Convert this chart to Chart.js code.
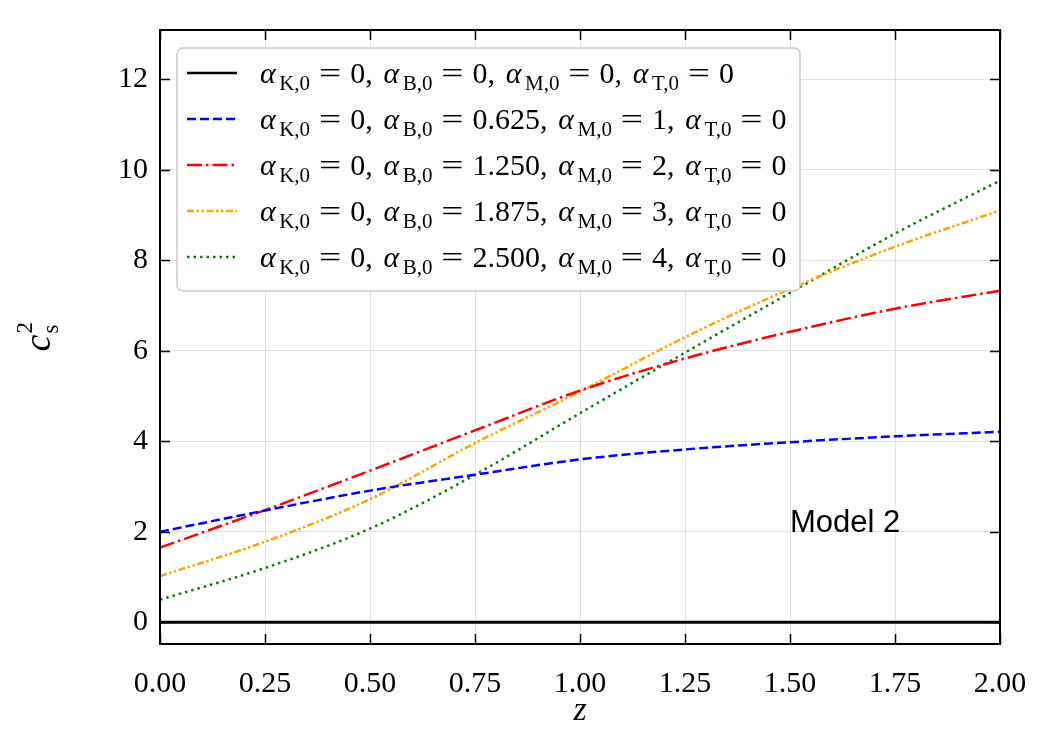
<!DOCTYPE html>
<html>
<head>
<meta charset="utf-8">
<script src="https://cdn.jsdelivr.net/npm/chart.js@4.4.1/dist/chart.umd.min.js"></script>
<style>
  html, body { margin: 0; padding: 0; background: #fff; }
  #wrap { width: 1050px; height: 750px; }
</style>
</head>
<body>
<div id="wrap"><canvas id="c" width="1050" height="750"></canvas></div>
<script>
// ── data ──
const zValues   = [0, 0.25, 0.5, 0.75, 1.0, 1.25, 1.5, 1.75, 2.0];
const cs2Zero   = [0, 0, 0, 0, 0, 0, 0, 0, 0];
const cs2M1     = [2.0, 2.47, 2.91, 3.26, 3.6, 3.82, 3.98, 4.11, 4.21];
const cs2M2     = [1.65, 2.48, 3.35, 4.24, 5.12, 5.83, 6.42, 6.93, 7.33];
const cs2M3     = [1.02, 1.78, 2.72, 3.96, 5.1, 6.3, 7.37, 8.3, 9.1];
const cs2M4     = [0.5, 1.2, 2.07, 3.26, 4.62, 5.96, 7.28, 8.59, 9.76];

const alphaB    = ['0', '0.625', '1.250', '1.875', '2.500'];
const alphaM    = ['0', '1', '2', '3', '4'];

const xTicks      = [0, 0.25, 0.5, 0.75, 1.0, 1.25, 1.5, 1.75, 2.0];
const xTickLabels = ['0.00', '0.25', '0.50', '0.75', '1.00', '1.25', '1.50', '1.75', '2.00'];
const yTicks      = [0, 2, 4, 6, 8, 10, 12];
const yTickLabels = ['0', '2', '4', '6', '8', '10', '12'];

const SERIF = '"Liberation Serif", "DejaVu Serif", serif';
const SANS  = '"Liberation Sans", Arial, sans-serif';

const seriesStyle = [
  { color: '#000000', dash: [] },
  { color: '#0000ff', dash: [9, 4] },
  { color: '#ff0000', dash: [15, 4, 2.5, 4] },
  { color: '#ffa500', dash: [7, 2.5, 2.5, 2.5, 2.5, 2.5] },
  { color: '#008000', dash: [2.5, 4] }
];
const seriesData = [cs2Zero, cs2M1, cs2M2, cs2M3, cs2M4];

function points(ys) {
  return zValues.map((z, i) => ({ x: z, y: ys[i] }));
}

// math-ish text, spacing roughly like TeX (em units)
function drawMath(ctx, parts, x, baseY, size) {
  let cx = x;
  for (const p of parts) {
    if (p.s === 'eq') {
      const boxW = 1.334 * size;
      ctx.font = size + 'px ' + SERIF;
      const gw = ctx.measureText('=').width;
      const sx = (0.74 * size) / gw;
      ctx.save();
      ctx.translate(cx + boxW / 2, baseY);
      ctx.scale(sx, 1);
      ctx.textAlign = 'center';
      ctx.fillText('=', 0, 0);
      ctx.restore();
      cx += boxW;
      continue;
    }
    if (p.s === 'comma') {
      ctx.font = size + 'px ' + SERIF;
      ctx.fillText(',', cx, baseY);
      cx += 0.611 * size;
      continue;
    }
    let fs = size, dy = 0;
    if (p.s === 'sub') { fs = size * 0.7; dy = size * 0.25; }
    ctx.font = (p.s === 'it' ? 'italic ' : '') + fs + 'px ' + SERIF;
    ctx.fillText(p.t, cx, baseY + dy);
    cx += p.w ? p.w * size : ctx.measureText(p.t).width;
  }
  return cx - x;
}

function legendParts(i) {
  const a = (sub) => [{ t: 'α', s: 'it', w: 0.64 }, { t: sub, s: 'sub' }, { s: 'eq' }];
  return [
    ...a('K,0'), { t: '0', s: 'rm' }, { s: 'comma' },
    ...a('B,0'), { t: alphaB[i], s: 'rm' }, { s: 'comma' },
    ...a('M,0'), { t: alphaM[i], s: 'rm' }, { s: 'comma' },
    ...a('T,0'), { t: '0', s: 'rm' }
  ];
}

// ── frame, inward ticks, legend, titles ──
const decorPlugin = {
  id: 'decor',
  afterDatasetsDraw(chart) {
    const { ctx, chartArea: a, scales } = chart;
    ctx.save();
    // inward ticks on all sides
    ctx.strokeStyle = '#000';
    ctx.lineWidth = 1.5;
    ctx.beginPath();
    xTicks.forEach(v => {
      const px = Math.round(scales.x.getPixelForValue(v)) + 0.5;
      ctx.moveTo(px, a.bottom); ctx.lineTo(px, a.bottom - 10);
      ctx.moveTo(px, a.top); ctx.lineTo(px, a.top + 10);
    });
    yTicks.forEach(v => {
      const py = Math.round(scales.y.getPixelForValue(v)) + 0.5;
      ctx.moveTo(a.left, py); ctx.lineTo(a.left + 10, py);
      ctx.moveTo(a.right, py); ctx.lineTo(a.right - 10, py);
    });
    ctx.stroke();
    ctx.lineWidth = 2;
    ctx.strokeRect(a.left, a.top, a.right - a.left, a.bottom - a.top);

    // legend box
    const bx = a.left + 17, by = a.top + 18, bw = 623, bh = 243;
    ctx.beginPath();
    ctx.roundRect(bx, by, bw, bh, 6);
    ctx.fillStyle = 'rgba(255,255,255,0.85)';
    ctx.fill();
    ctx.strokeStyle = '#cccccc';
    ctx.lineWidth = 1.5;
    ctx.stroke();

    ctx.textAlign = 'left';
    ctx.textBaseline = 'alphabetic';
    const fs = 30;
    for (let i = 0; i < seriesStyle.length; i++) {
      const ry = by + 25 + i * 46;
      ctx.beginPath();
      ctx.setLineDash(seriesStyle[i].dash);
      ctx.strokeStyle = seriesStyle[i].color;
      ctx.lineWidth = 2.5;
      ctx.moveTo(bx + 10, ry); ctx.lineTo(bx + 60, ry);
      ctx.stroke();
      ctx.setLineDash([]);
      ctx.fillStyle = '#000';
      drawMath(ctx, legendParts(i), bx + 83, ry + fs * 0.32, fs);
    }

    // annotation
    ctx.font = '31px ' + SANS;
    ctx.fillStyle = '#000';
    ctx.fillText('Model 2', scales.x.getPixelForValue(1.5), scales.y.getPixelForValue(2.0));
    ctx.restore();
  },
  afterDraw(chart) {
    const { ctx, chartArea: a } = chart;
    ctx.save();
    ctx.fillStyle = '#000';
    // x title
    ctx.textAlign = 'center';
    ctx.textBaseline = 'middle';
    ctx.font = 'italic 34px ' + SERIF;
    ctx.fillText('z', (a.left + a.right) / 2, 711);
    // y title  c_s^2
    ctx.translate(40, (a.top + a.bottom) / 2);
    ctx.rotate(-Math.PI / 2);
    ctx.textAlign = 'left';
    ctx.font = 'italic 38px ' + SERIF;
    const cw = ctx.measureText('c').width;
    const x0 = -(cw + 12) / 2;
    ctx.fillText('c', x0, 0);
    ctx.font = '23px ' + SERIF;
    ctx.fillText('2', x0 + cw + 1, -14);
    ctx.fillText('s', x0 + cw + 1, 12);
    ctx.restore();
  }
};

new Chart(document.getElementById('c'), {
  type: 'line',
  data: {
    datasets: seriesData.map((ys, i) => ({
      data: points(ys),
      borderColor: seriesStyle[i].color,
      borderDash: seriesStyle[i].dash,
      borderWidth: i === 0 ? 3 : 2.5,
      borderCapStyle: 'butt',
      pointRadius: 0,
      fill: false,
      cubicInterpolationMode: 'monotone'
    }))
  },
  options: {
    responsive: false,
    animation: false,
    events: [],
    layout: { padding: { left: 0, right: 50, top: 20, bottom: 0 } },
    plugins: { legend: { display: false }, tooltip: { enabled: false } },
    scales: {
      x: {
        type: 'linear', min: 0, max: 2,
        afterFit: s => { s.height = 106; },
        afterBuildTicks: s => { s.ticks = xTicks.map(v => ({ value: v })); },
        ticks: {
          callback: (v) => xTickLabels[xTicks.indexOf(v)] ?? '',
          color: '#000', padding: 22, maxRotation: 0, autoSkip: false,
          font: { family: SERIF, size: 30 }
        },
        grid: { color: 'rgba(0,0,0,0.11)', lineWidth: 1, drawTicks: false },
        border: { display: false }
      },
      y: {
        type: 'linear', min: -0.48, max: 13.09,
        afterFit: s => { s.width = 160; },
        afterBuildTicks: s => { s.ticks = yTicks.map(v => ({ value: v })); },
        ticks: {
          callback: (v) => yTickLabels[yTicks.indexOf(v)] ?? '',
          color: '#000', padding: 12, autoSkip: false,
          font: { family: SERIF, size: 30 }
        },
        grid: { color: 'rgba(0,0,0,0.11)', lineWidth: 1, drawTicks: false },
        border: { display: false }
      }
    }
  },
  plugins: [decorPlugin]
});
</script>
</body>
</html>
